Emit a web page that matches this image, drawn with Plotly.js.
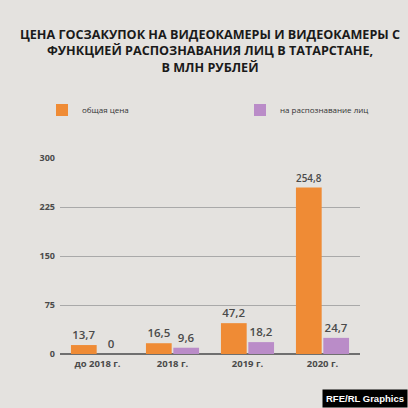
<!DOCTYPE html>
<html><head><meta charset="utf-8">
<script src="https://cdn.plot.ly/plotly-3.0.1.min.js"></script>
<style>html,body{margin:0;padding:0;background:#e4e2df;}#chart{width:408px;height:408px;}</style>
</head><body><div id="chart"></div>
<script>
const categories = ['до 2018 г.', '2018 г.', '2019 г.', '2020 г.'];
const totalPrice = [13.7, 16.5, 47.2, 254.8];
const faceRecognition = [0, 9.6, 18.2, 24.7];
const seriesNames = ['общая цена', 'на распознавание лиц'];
const yTicks = [0, 75, 150, 225, 300];

const fmt = v => String(v).replace('.', ',');
const labelFont = {family:'Open Sans', size:11.5, color:'#4a4a4a', weight:600};

const traces = [
  {type:'bar', name:seriesNames[0], x:categories, y:totalPrice, legend:'legend',
   text:totalPrice.map(fmt), textposition:'outside', cliponaxis:false,
   marker:{color:'#ef8b35'}, textfont:labelFont, hoverinfo:'none'},
  {type:'bar', name:seriesNames[1], x:categories, y:faceRecognition, legend:'legend2',
   text:faceRecognition.map(fmt), textposition:'outside', cliponaxis:false,
   marker:{color:'#ba8cc8'}, textfont:labelFont, hoverinfo:'none'}
];

const legendFont = {family:'Open Sans', size:8, color:'#333'};
const legY = (354-110)/196;

const layout = {
  width:408, height:408,
  paper_bgcolor:'#e4e2df', plot_bgcolor:'#e4e2df',
  margin:{l:60, r:48, t:158, b:54},
  separators:', ',
  font:{family:'Open Sans', color:'#4a4a4a'},
  title:{text:'ЦЕНА ГОСЗАКУПОК НА ВИДЕОКАМЕРЫ И ВИДЕОКАМЕРЫ С<br>ФУНКЦИЕЙ РАСПОЗНАВАНИЯ ЛИЦ В ТАТАРСТАНЕ,<br>В МЛН РУБЛЕЙ',
    font:{family:'Open Sans', size:12.6, color:'#1a1a1a', weight:'bold'},
    x:0.5, xref:'paper', xanchor:'center', y:1-39/408, yref:'container', yanchor:'top'},
  barmode:'group', bargap:0.27, bargroupgap:0.06,
  showlegend:true,
  legend:{orientation:'h', x:(42-60)/300, xanchor:'left', y:legY, yanchor:'middle',
    font:legendFont, bgcolor:'rgba(0,0,0,0)'},
  legend2:{orientation:'h', x:(240-60)/300, xanchor:'left', y:legY, yanchor:'middle',
    font:legendFont, bgcolor:'rgba(0,0,0,0)'},
  xaxis:{type:'category', showgrid:false, zeroline:false, showline:false, ticks:'',
    tickfont:{family:'Open Sans', size:9.5, color:'#4a4a4a', weight:'bold'}, ticklabelstandoff:2},
  yaxis:{range:[0,300], tickvals:yTicks, ticktext:yTicks.map(String), showgrid:true, gridcolor:'#a9a9a9', gridwidth:1,
    zeroline:true, zerolinecolor:'#6f6f6f', zerolinewidth:2, showline:false, ticks:'',
    tickfont:{family:'Open Sans', size:9, color:'#4a4a4a', weight:'bold'}, ticklabelstandoff:4},
  annotations:[{text:'<b>RFE/RL Graphics</b>', xref:'paper', yref:'paper', x:1+48/300, y:-54/196, xanchor:'right', yanchor:'bottom',
    showarrow:false, bgcolor:'#000', font:{family:'Arial', size:9.5, color:'#fff'}, borderpad:3}]
};

Plotly.newPlot('chart', traces, layout, {staticPlot:true, displayModeBar:false});
</script></body></html>
